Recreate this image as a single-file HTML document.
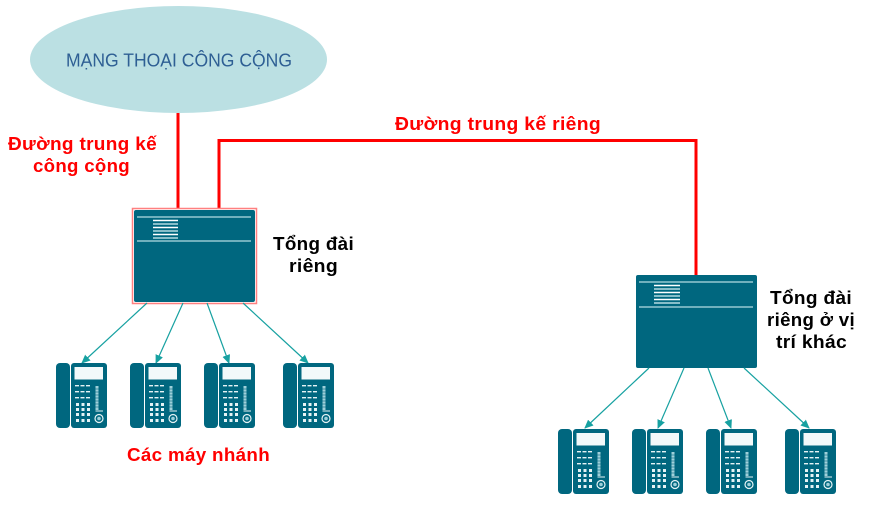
<!DOCTYPE html>
<html>
<head>
<meta charset="utf-8">
<style>
  html, body { margin:0; padding:0; background:#ffffff; }
  body { width:880px; height:523px; overflow:hidden; }
  svg { display:block; }
  .lbl { font-family:"Liberation Sans", "DejaVu Sans", sans-serif; font-weight:bold; font-size:18px; letter-spacing:0.3px; }
</style>
</head>
<body>
<svg width="880" height="523" viewBox="0 0 880 523" xmlns="http://www.w3.org/2000/svg">
  <defs>
    <marker id="ah" markerUnits="userSpaceOnUse" markerWidth="9" markerHeight="8" refX="8" refY="4" orient="auto">
      <path d="M0,0 L9,4 L0,8 z" fill="#17a1a1"/>
    </marker>
    <symbol id="phone" viewBox="0 0 51 65" width="51" height="65">
      <rect x="0" y="0" width="14" height="65" rx="4" fill="#00677f"/>
      <rect x="15" y="0" width="36" height="65" rx="3" fill="#00677f"/>
      <rect x="18.5" y="4" width="28.5" height="12.5" fill="#f2f9fa"/>
      <g fill="#e6f3f5">
        <rect x="19" y="22" width="4" height="1.4"/><rect x="24.5" y="22" width="4" height="1.4"/><rect x="30" y="22" width="4" height="1.4"/>
        <rect x="19" y="28" width="4" height="1.4"/><rect x="24.5" y="28" width="4" height="1.4"/><rect x="30" y="28" width="4" height="1.4"/>
        <rect x="19" y="34" width="4" height="1.4"/><rect x="24.5" y="34" width="4" height="1.4"/><rect x="30" y="34" width="4" height="1.4"/>
        <rect x="20" y="40" width="3" height="3"/><rect x="25.5" y="40" width="3" height="3"/><rect x="31" y="40" width="3" height="3"/>
        <rect x="20" y="45" width="3" height="3"/><rect x="25.5" y="45" width="3" height="3"/><rect x="31" y="45" width="3" height="3"/>
        <rect x="20" y="50" width="3" height="3"/><rect x="25.5" y="50" width="3" height="3"/><rect x="31" y="50" width="3" height="3"/>
        <rect x="20" y="56" width="3" height="3"/><rect x="25.5" y="56" width="3" height="3"/><rect x="31" y="56" width="3" height="3"/>
      </g>
      <rect x="39.5" y="23" width="3" height="24" fill="#9fd0da"/>
      <g stroke="#00677f" stroke-width="0.6">
        <line x1="39.5" y1="26" x2="42.5" y2="26"/><line x1="39.5" y1="29" x2="42.5" y2="29"/>
        <line x1="39.5" y1="32" x2="42.5" y2="32"/><line x1="39.5" y1="35" x2="42.5" y2="35"/>
        <line x1="39.5" y1="38" x2="42.5" y2="38"/><line x1="39.5" y1="41" x2="42.5" y2="41"/>
        <line x1="39.5" y1="44" x2="42.5" y2="44"/>
      </g>
      <line x1="39.5" y1="48" x2="47" y2="48" stroke="#e6f3f5" stroke-width="1"/>
      <circle cx="43" cy="55.5" r="4" fill="none" stroke="#e6f3f5" stroke-width="1.2"/>
      <circle cx="43" cy="55.5" r="1.8" fill="#9fd0da"/>
    </symbol>
  </defs>

  <!-- Public network ellipse -->
  <ellipse cx="178.5" cy="59.5" rx="148.5" ry="53.5" fill="#bbe0e3"/>
  <text x="66" y="66.5" textLength="226" lengthAdjust="spacingAndGlyphs" font-family="Liberation Sans, DejaVu Sans, sans-serif" font-size="18.5" fill="#2e5f94">MẠNG THOẠI CÔNG CỘNG</text>

  <!-- red trunk lines -->
  <line x1="178" y1="113" x2="178" y2="209" stroke="#ff0000" stroke-width="3"/>
  <polyline points="219,209 219,140.5 696,140.5 696,276" fill="none" stroke="#ff0000" stroke-width="3"/>

  <!-- Left PBX -->
  <rect x="132.5" y="208.5" width="124" height="95" fill="none" stroke="#ff8080" stroke-width="1.5"/>
  <rect x="134" y="210" width="121" height="92" rx="2" fill="#00677f"/>
  <line x1="137" y1="217" x2="251" y2="217" stroke="#b4dbe2" stroke-width="1.3"/>
  <line x1="137" y1="241" x2="251" y2="241" stroke="#b4dbe2" stroke-width="1.3"/>
  <g stroke-width="1.4">
    <line x1="153" y1="220.5" x2="178" y2="220.5" stroke="#ffffff"/>
    <line x1="153" y1="224" x2="178" y2="224" stroke="#b4dbe2"/>
    <line x1="153" y1="227.5" x2="178" y2="227.5" stroke="#ffffff"/>
    <line x1="153" y1="231" x2="178" y2="231" stroke="#b4dbe2"/>
    <line x1="153" y1="234.5" x2="178" y2="234.5" stroke="#ffffff"/>
    <line x1="153" y1="238" x2="178" y2="238" stroke="#b4dbe2"/>
  </g>

  <!-- Right PBX -->
  <rect x="636" y="275" width="121" height="93" rx="2" fill="#00677f"/>
  <line x1="639" y1="282" x2="753" y2="282" stroke="#b4dbe2" stroke-width="1.3"/>
  <line x1="639" y1="307" x2="753" y2="307" stroke="#b4dbe2" stroke-width="1.3"/>
  <g stroke-width="1.4">
    <line x1="654" y1="285.5" x2="680" y2="285.5" stroke="#ffffff"/>
    <line x1="654" y1="289" x2="680" y2="289" stroke="#b4dbe2"/>
    <line x1="654" y1="292.5" x2="680" y2="292.5" stroke="#ffffff"/>
    <line x1="654" y1="296" x2="680" y2="296" stroke="#b4dbe2"/>
    <line x1="654" y1="299.5" x2="680" y2="299.5" stroke="#ffffff"/>
    <line x1="654" y1="303" x2="680" y2="303" stroke="#b4dbe2"/>
  </g>

  <!-- arrows -->
  <g stroke="#17a1a1" stroke-width="1.2" marker-end="url(#ah)">
    <line x1="147" y1="303" x2="82" y2="363"/>
    <line x1="183" y1="303" x2="156" y2="363"/>
    <line x1="207" y1="303" x2="229" y2="363"/>
    <line x1="243" y1="303" x2="308" y2="363"/>
    <line x1="649" y1="368" x2="585" y2="428"/>
    <line x1="684" y1="368" x2="658" y2="428"/>
    <line x1="708" y1="368" x2="731" y2="428"/>
    <line x1="744" y1="368" x2="809" y2="428"/>
  </g>

  <!-- phones -->
  <use href="#phone" x="56" y="363" width="51" height="65"/>
  <use href="#phone" x="130" y="363" width="51" height="65"/>
  <use href="#phone" x="204" y="363" width="51" height="65"/>
  <use href="#phone" x="283" y="363" width="51" height="65"/>
  <use href="#phone" x="558" y="429" width="51" height="65"/>
  <use href="#phone" x="632" y="429" width="51" height="65"/>
  <use href="#phone" x="706" y="429" width="51" height="65"/>
  <use href="#phone" x="785" y="429" width="51" height="65"/>

  <!-- labels -->
  <g class="lbl" fill="#ff0000">
    <text x="395" y="130" textLength="206" lengthAdjust="spacingAndGlyphs">Đường trung kế riêng</text>
    <text x="8" y="150" textLength="149" lengthAdjust="spacingAndGlyphs">Đường trung kế</text>
    <text x="33" y="172" textLength="97" lengthAdjust="spacingAndGlyphs">công cộng</text>
    <text x="127" y="461" textLength="143" lengthAdjust="spacingAndGlyphs">Các máy nhánh</text>
  </g>
  <g class="lbl" fill="#000000">
    <text x="273" y="250" textLength="81" lengthAdjust="spacingAndGlyphs">Tổng đài</text>
    <text x="289" y="272" textLength="49" lengthAdjust="spacingAndGlyphs">riêng</text>
    <text x="770" y="304" textLength="82" lengthAdjust="spacingAndGlyphs">Tổng đài</text>
    <text x="767" y="326" textLength="88" lengthAdjust="spacingAndGlyphs">riêng ở vị</text>
    <text x="776" y="348" textLength="71" lengthAdjust="spacingAndGlyphs">trí khác</text>
  </g>
</svg>
</body>
</html>
